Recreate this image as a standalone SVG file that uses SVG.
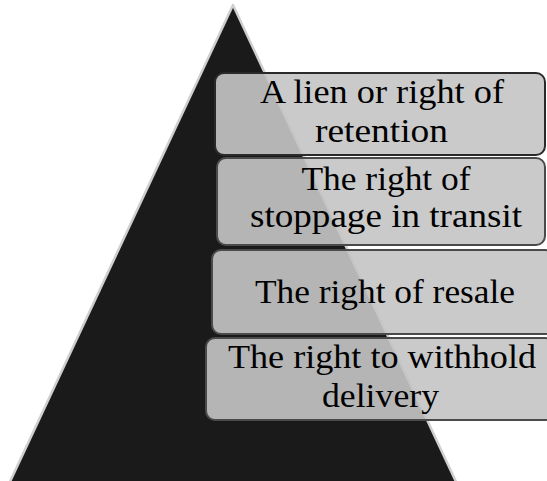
<svg xmlns="http://www.w3.org/2000/svg" width="547" height="481" viewBox="0 0 547 481">
<style>
.box{fill:rgb(197,197,197);fill-opacity:0.91;stroke:#4a4a4a;stroke-width:2}
.top{stroke:#2a2a2a}
.t{font-family:"Liberation Serif","Times New Roman",serif;font-size:34px;fill:#000;text-anchor:middle}
</style>
<rect width="547" height="481" fill="#fff"/>
<g id="pyramid">
<polygon points="233,5 8,486 458,486" fill="#1a1a1a" stroke="#cfcfcf" stroke-width="2.5" stroke-linejoin="round"/>
</g>
<g id="connectors"></g>
<g id="node1">
<rect class="box top" x="215" y="73" width="330" height="82" rx="9"/>
<text class="t" x="382" y="103" textLength="244" lengthAdjust="spacingAndGlyphs">A lien or right of</text>
<text class="t" x="381.5" y="142" textLength="133" lengthAdjust="spacingAndGlyphs">retention</text>
</g>
<g id="node2">
<rect class="box" x="217" y="158" width="328" height="87" rx="9"/>
<text class="t" x="386" y="190" textLength="169" lengthAdjust="spacingAndGlyphs">The right of</text>
<text class="t" x="386" y="227" textLength="272" lengthAdjust="spacingAndGlyphs">stoppage in transit</text>
</g>
<g id="node3">
<rect class="box" x="212" y="250" width="342" height="84" rx="9"/>
<text class="t" x="385" y="303" textLength="260" lengthAdjust="spacingAndGlyphs">The right of resale</text>
</g>
<g id="node4">
<rect class="box" x="206" y="338" width="348" height="82" rx="9"/>
<text class="t" x="382" y="368" textLength="308" lengthAdjust="spacingAndGlyphs">The right to withhold</text>
<text class="t" x="380.5" y="407" textLength="117" lengthAdjust="spacingAndGlyphs">delivery</text>
</g>
</svg>
